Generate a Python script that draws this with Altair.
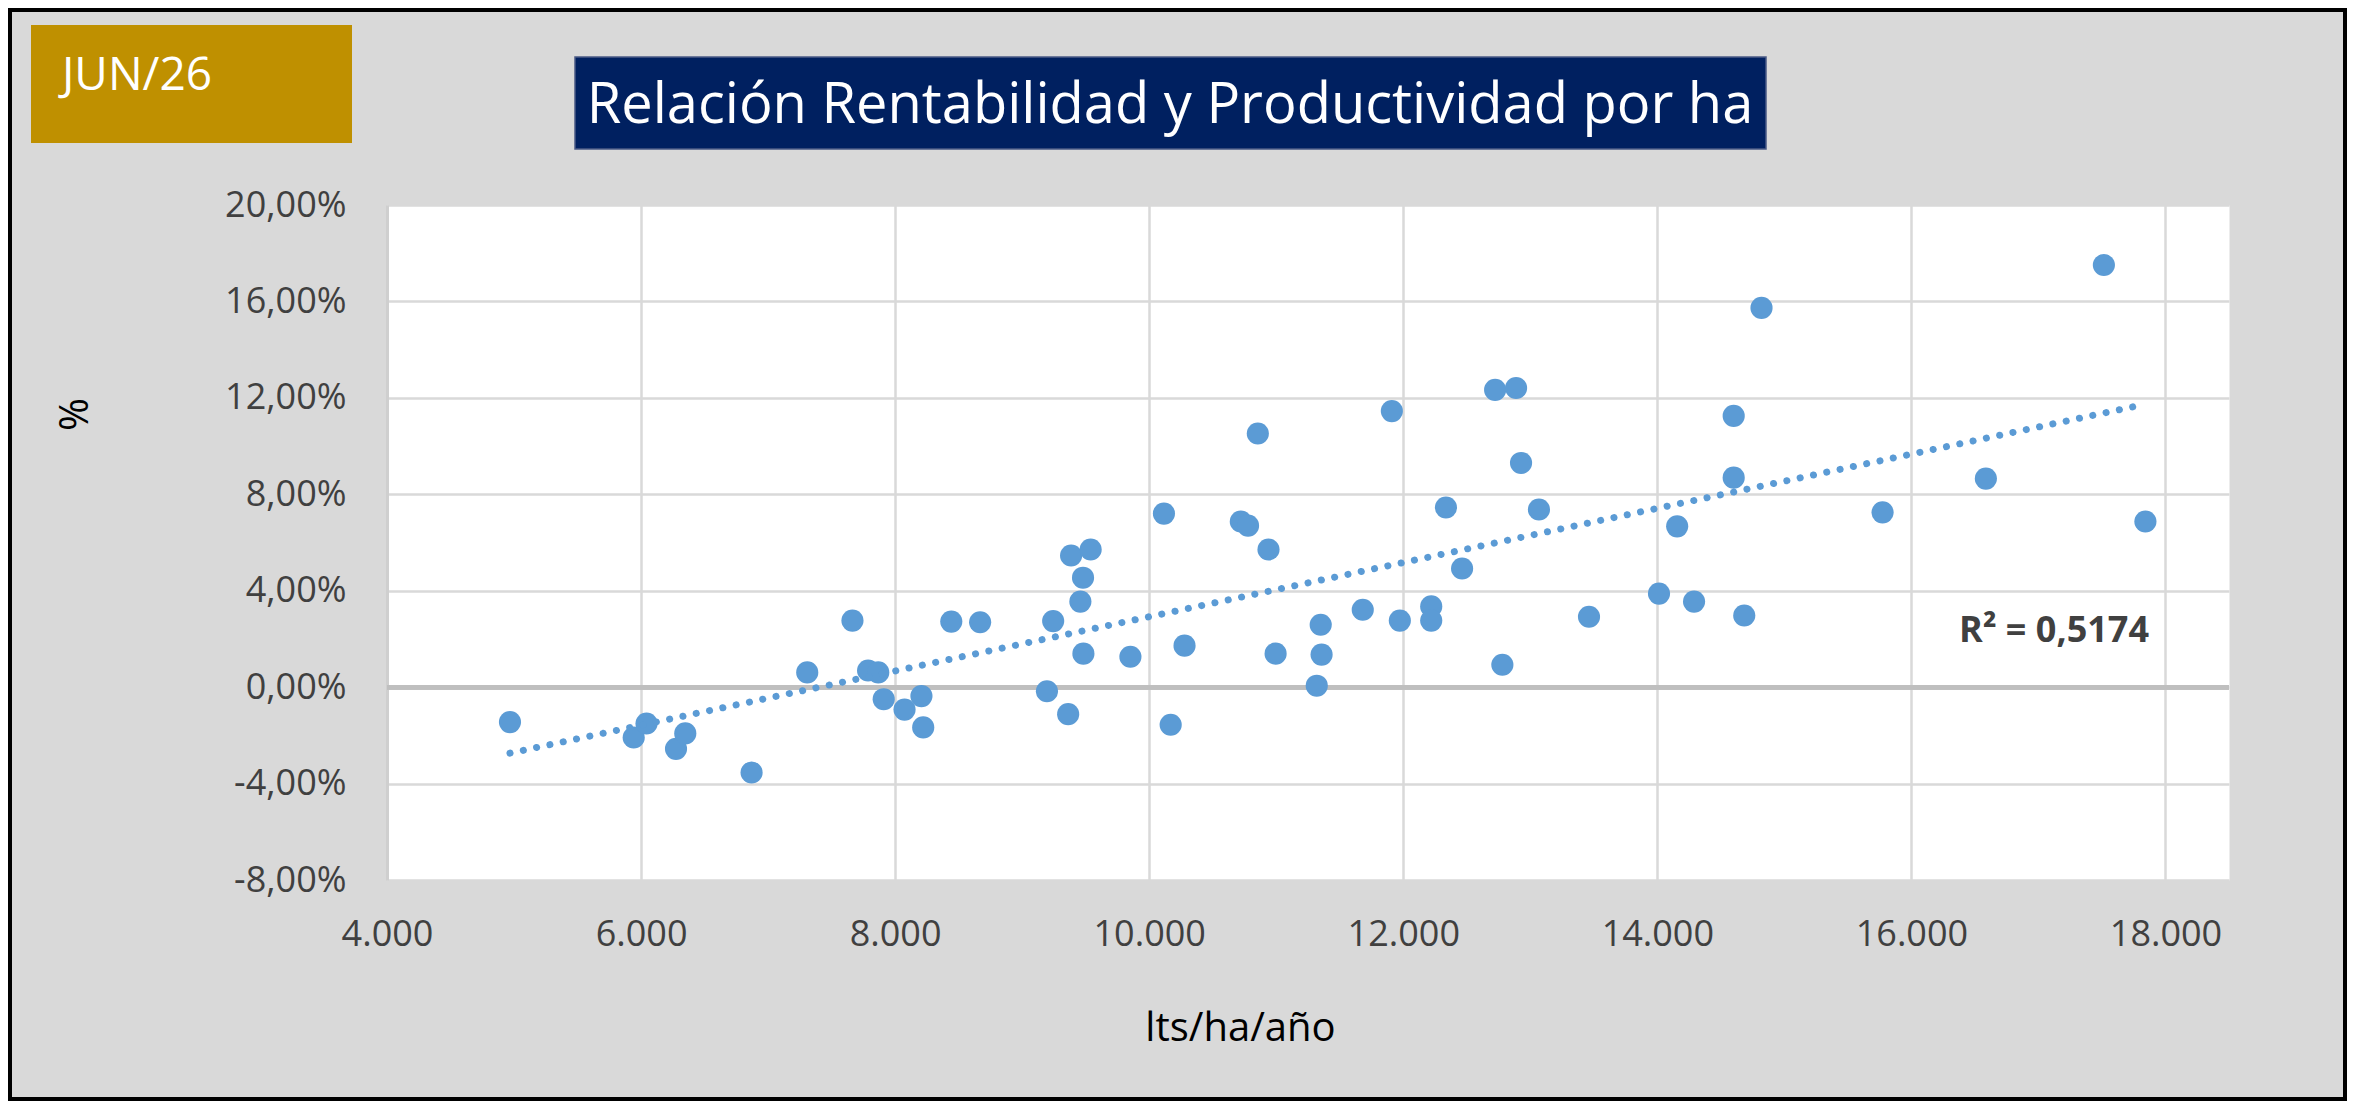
import altair as alt
import pandas as pd

# lts/ha/año
x_lts = [4968, 5942, 6043, 6275, 6348, 6870, 7308, 7664, 7787, 7867,
         7910, 8074, 8207, 8221, 8442, 8669, 9195, 9244, 9362, 9385,
         9539, 9479, 9458, 9482, 9852, 10116, 10169, 10278, 10721, 10778,
         10855, 10939, 10995, 11350, 11357, 11319, 11681, 11910, 11973, 12220,
         12220, 12336, 12463, 12780, 12927, 13068, 13462, 14013, 14156, 14289,
         12723, 12888, 14601, 14820, 14601, 16586, 15773, 14684, 17842, 17515]
# rentabilidad (%)
y_pct = [-1.45, -2.09, -1.51, -2.56, -1.92, -3.54, 0.61, 2.76, 0.69, 0.61,
         -0.50, -0.93, -0.37, -1.67, 2.72, 2.69, -0.17, 2.74, -1.12, 5.46,
         5.71, 4.54, 3.55, 1.39, 1.26, 7.20, -1.56, 1.72, 6.87, 6.70,
         10.52, 5.71, 1.39, 2.59, 1.35, 0.06, 3.21, 11.45, 2.76, 3.35,
         2.76, 7.45, 4.92, 0.93, 9.30, 7.37, 2.92, 3.88, 6.67, 3.55,
         12.33, 12.41, 11.25, 15.73, 8.69, 8.65, 7.25, 2.97, 6.87, 17.51]

x_ticks = [4000, 6000, 8000, 10000, 12000, 14000, 16000, 18000]
y_ticks = [-8, -4, 0, 4, 8, 12, 16, 20]

title_text = "Relación Rentabilidad y Productividad por ha"
badge_text = "JUN/26"
r2_text = "R² = 0,5174"
x_title = "lts/ha/año"
y_title = "%"

BLUE = "#5B9BD5"
FONT = "Open Sans"

df = pd.DataFrame({"lts": x_lts, "rent": y_pct})
one = pd.DataFrame({"k": [0]})

W, H = 1842, 675
PAD = {"left": 379, "top": 197, "right": 118, "bottom": 221}

x_scale = alt.Scale(domain=[4000, 18500], nice=False, zero=False)
y_scale = alt.Scale(domain=[-8, 20], nice=False, zero=False)

x_axis = alt.Axis(
    values=x_ticks,
    labelExpr="replace(format(datum.value, ',d'), ',', '.')",
    labelFont=FONT, labelFontSize=36, labelColor="#404040",
    labelPadding=37, labelFlush=False, labelOverlap=False,
    ticks=False, domain=False,
    grid=True, gridColor="#D9D9D9", gridWidth=2.5,
    title=x_title, titleFont=FONT, titleFontSize=40, titleFontWeight="normal",
    titleColor="#000000", titleX=853, titleY=160,
    titleBaseline="alphabetic", titleAlign="center",
)
y_axis = alt.Axis(
    values=y_ticks,
    labelExpr="(datum.value < 0 ? '-' : '') + replace(format(abs(datum.value), '.2f'), '.', ',') + '%'",
    labelFont=FONT, labelFontSize=36, labelColor="#404040",
    labelPadding=41, labelOverlap=False,
    ticks=False, domain=True, domainColor="#CFCFCF", domainWidth=3,
    grid=True, gridColor="#D9D9D9", gridWidth=2.5,
    title=y_title, titleFont=FONT, titleFontSize=40, titleFontWeight="normal",
    titleColor="#000000", titleX=-312, titleY=209, titleAngle=270,
    titleAlign="center", titleBaseline="middle",
)

base = alt.Chart(df)

zero_rule = base.mark_rule(color="#BFBFBF", strokeWidth=4).encode(
    y=alt.datum(0, scale=y_scale)
)

points = base.mark_circle(size=490, color=BLUE, opacity=1).encode(
    x=alt.X("lts:Q", scale=x_scale, axis=x_axis),
    y=alt.Y("rent:Q", scale=y_scale, axis=y_axis),
)

trend = base.transform_regression("lts", "rent").mark_line(
    color=BLUE, strokeWidth=7, strokeDash=[0.1, 13.5], strokeCap="round"
).encode(
    x=alt.X("lts:Q", scale=x_scale),
    y=alt.Y("rent:Q", scale=y_scale),
)

deco = alt.Chart(one)
gold = deco.mark_rect(color="#BF9000").encode(
    x=alt.value(-356), x2=alt.value(-35), y=alt.value(-180), y2=alt.value(-62)
)
badge = deco.mark_text(text=badge_text, font=FONT, fontSize=46, color="#FFFFFF",
                       align="left", baseline="alphabetic").encode(
    x=alt.value(-325), y=alt.value(-115)
)
navy = deco.mark_rect(color="#002060", stroke="#4A5A85", strokeWidth=1.5).encode(
    x=alt.value(188), x2=alt.value(1379), y=alt.value(-148), y2=alt.value(-56)
)
title = deco.mark_text(text=title_text, font=FONT, fontSize=56, color="#FFFFFF",
                       align="center", baseline="alphabetic").encode(
    x=alt.value(783), y=alt.value(-82)
)
r2 = deco.mark_text(text=r2_text, font=FONT, fontSize=36, fontWeight="bold",
                    color="#404040", align="right", baseline="alphabetic").encode(
    x=alt.value(1762), y=alt.value(437)
)
frame = deco.mark_rect(fill="transparent", stroke="#000000", strokeWidth=4).encode(
    x=alt.value(-377), x2=alt.value(1958), y=alt.value(-195), y2=alt.value(894)
)

chart = alt.layer(
    gold, badge, navy, title, zero_rule, points, trend, r2, frame
).properties(
    width=W, height=H, padding=PAD,
    autosize=alt.AutoSizeParams(type="none"),
    background="#D9D9D9",
).configure_view(fill="#FFFFFF", stroke="transparent")

chart.save("out.html", embed_options={"renderer": "svg", "actions": False})
